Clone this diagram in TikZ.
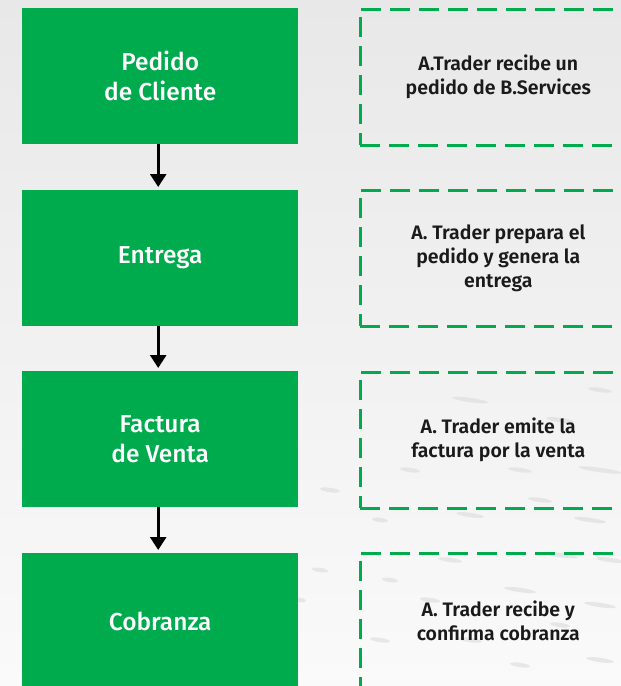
\documentclass[tikz,border=0pt]{standalone}
\usepackage{fontspec}
\setmainfont{Fira Sans}[UprightFont=* Medium, BoldFont=* SemiBold]
\usetikzlibrary{arrows.meta}
\definecolor{grn}{HTML}{00AB4E}
\definecolor{txt}{HTML}{1A1A1A}
\tikzset{
  stepbox/.style={fill=grn, draw=none, minimum width=276pt, minimum height=136pt,
    anchor=north west, text=white, align=center, inner sep=0pt,
    font=\fontsize{24.5}{30}\selectfont},
  notebox/.style={draw=grn, line width=2.6pt, dash pattern=on 20pt off 9pt,
    minimum width=276pt, minimum height=136pt, anchor=north west, text=txt,
    align=center, inner sep=0pt, font=\bfseries\fontsize{19.5}{24}\selectfont},
  flow/.style={draw=black, line width=2.6pt, -{Triangle[width=16pt,length=13pt]}, shorten >=3pt},
  streak/.style={fill=black!14, opacity=0.6}
}
\begin{document}
\begin{tikzpicture}[x=1pt,y=-1pt]
\useasboundingbox (0,0) rectangle (621,686);
\clip (0,0) rectangle (621,686);
\shade[top color=black!9, bottom color=black!2] (0,0) rectangle (621,686);
% background streaks
\foreach \x/\y/\w in {470/400/18, 560/420/14, 600/470/22, 410/470/10, 520/470/12,
  590/520/16, 470/515/14, 380/520/8, 560/555/18, 610/560/14, 450/560/12, 520/590/16,
  600/605/16, 470/640/12, 560/625/10, 600/660/14, 520/665/10, 390/580/8, 380/640/10,
  330/490/10, 320/570/8, 300/600/6, 540/500/12, 430/600/10, 600/390/12}
  \fill[streak, rotate around={-8:(\x,\y)}] (\x,\y) ellipse ({\w pt} and 2.2pt);

\node[stepbox] (g1) at (22,8)   {Pedido\\de Cliente};
\node[stepbox] (g2) at (22,190) {Entrega};
\node[stepbox] (g3) at (22,371) {Factura\\de Venta};
\node[stepbox] (g4) at (22,553) {Cobranza};

\node[notebox] (n1) at (359,8)   {A.Trader recibe un\\pedido de B.Services};
\node[notebox] (n2) at (359,189) {A. Trader prepara el\\pedido y genera la\\entrega};
\node[notebox] (n3) at (359,371) {A. Trader emite la\\factura por la venta};
\node[notebox] (n4) at (359,552) {A. Trader recibe y\\confirma cobranza};

\draw[flow] ([xshift=-2pt]g1.south) -- ([xshift=-2pt]g2.north);
\draw[flow] ([xshift=-2pt]g2.south) -- ([xshift=-2pt]g3.north);
\draw[flow] ([xshift=-2pt]g3.south) -- ([xshift=-2pt]g4.north);
\end{tikzpicture}
\end{document}
